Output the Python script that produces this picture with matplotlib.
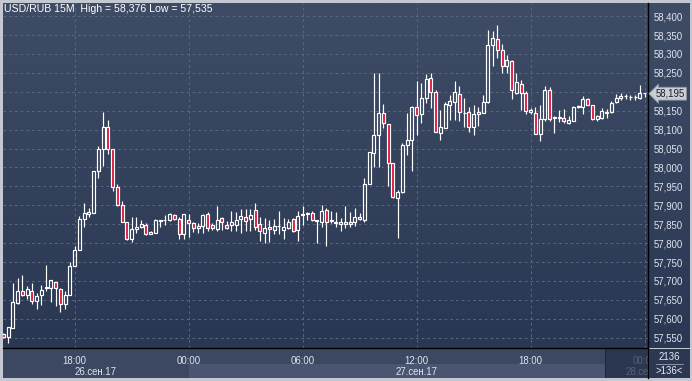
import numpy as np
import matplotlib
matplotlib.use("Agg")
import matplotlib.pyplot as plt
from matplotlib import transforms
from matplotlib.colors import LinearSegmentedColormap
from matplotlib.patches import Rectangle

# USD/RUB 15 minute bars, 26.09.2017 14:15 .. 28.09.2017 00:00
opens = [57.561, 57.551, 57.576, 57.642, 57.673, 57.664, 57.673, 57.648, 57.663, 57.680,
         57.680, 57.698, 57.678, 57.640, 57.662, 57.740, 57.781, 57.864, 57.878, 57.880,
         57.991, 58.050, 58.108, 58.049, 57.947, 57.900, 57.855, 57.812, 57.838, 57.843,
         57.849, 57.825, 57.827, 57.858, 57.860, 57.861, 57.873, 57.865, 57.823, 57.862,
         57.854, 57.841, 57.845, 57.878, 57.849, 57.838, 57.866, 57.848, 57.847, 57.847,
         57.863, 57.869, 57.864, 57.888, 57.851, 57.827, 57.843, 57.834, 57.845, 57.834,
         57.841, 57.864, 57.834, 57.874, 57.878, 57.880, 57.859, 57.856, 57.888, 57.860,
         57.853, 57.851, 57.856, 57.856, 57.856, 57.864, 57.862, 57.955, 58.039, 58.085,
         58.143, 58.115, 58.011, 57.920, 57.935, 58.060, 58.073, 58.161, 58.140, 58.184,
         58.237, 58.200, 58.091, 58.104, 58.166, 58.172, 58.195, 58.145, 58.146, 58.107,
         58.141, 58.144, 58.173, 58.323, 58.340, 58.311, 58.269, 58.282, 58.197, 58.221,
         58.197, 58.153, 58.144, 58.089, 58.128, 58.206, 58.131, 58.132, 58.132, 58.117,
         58.124, 58.160, 58.161, 58.182, 58.166, 58.128, 58.132, 58.144, 58.146, 58.172,
         58.184, 58.188, 58.185, 58.186, 58.184, 58.197]
highs = [57.563, 57.578, 57.695, 57.708, 57.715, 57.686, 57.694, 57.668, 57.690, 57.741,
         57.702, 57.698, 57.682, 57.673, 57.751, 57.793, 57.872, 57.905, 57.894, 57.990,
         58.056, 58.146, 58.125, 58.049, 57.955, 57.911, 57.855, 57.868, 57.868, 57.861,
         57.854, 57.833, 57.864, 57.861, 57.874, 57.880, 57.878, 57.869, 57.876, 57.877,
         57.856, 57.854, 57.877, 57.881, 57.853, 57.899, 57.868, 57.858, 57.886, 57.882,
         57.890, 57.890, 57.890, 57.905, 57.869, 57.866, 57.860, 57.864, 57.884, 57.867,
         57.865, 57.867, 57.884, 57.898, 57.883, 57.884, 57.860, 57.900, 57.893, 57.886,
         57.881, 57.866, 57.899, 57.883, 57.894, 57.879, 57.971, 58.041, 58.250, 58.250,
         58.167, 58.115, 58.011, 57.940, 58.065, 58.143, 58.163, 58.228, 58.222, 58.246,
         58.249, 58.205, 58.153, 58.172, 58.192, 58.228, 58.216, 58.184, 58.160, 58.166,
         58.160, 58.192, 58.364, 58.362, 58.376, 58.325, 58.296, 58.285, 58.250, 58.232,
         58.203, 58.157, 58.160, 58.164, 58.214, 58.212, 58.137, 58.153, 58.154, 58.137,
         58.163, 58.164, 58.188, 58.184, 58.166, 58.139, 58.157, 58.154, 58.175, 58.195,
         58.198, 58.195, 58.192, 58.191, 58.217, 58.197]
lows = [57.549, 57.535, 57.576, 57.638, 57.659, 57.651, 57.638, 57.625, 57.637, 57.673,
        57.643, 57.634, 57.619, 57.626, 57.662, 57.740, 57.781, 57.843, 57.868, 57.880,
        57.973, 58.004, 58.035, 57.938, 57.899, 57.857, 57.809, 57.804, 57.828, 57.839,
        57.821, 57.823, 57.827, 57.843, 57.848, 57.859, 57.861, 57.812, 57.810, 57.817,
        57.830, 57.828, 57.828, 57.831, 57.834, 57.832, 57.834, 57.836, 57.833, 57.831,
        57.826, 57.831, 57.831, 57.834, 57.805, 57.800, 57.802, 57.823, 57.824, 57.811,
        57.836, 57.830, 57.805, 57.847, 57.861, 57.859, 57.800, 57.842, 57.792, 57.854,
        57.842, 57.831, 57.840, 57.842, 57.845, 57.860, 57.855, 57.955, 58.002, 58.002,
        58.105, 57.951, 57.920, 57.814, 57.933, 58.034, 57.990, 58.087, 58.118, 58.170,
        58.158, 58.094, 58.072, 58.104, 58.126, 58.126, 58.122, 58.106, 58.094, 58.085,
        58.110, 58.144, 58.170, 58.267, 58.288, 58.250, 58.250, 58.182, 58.194, 58.153,
        58.141, 58.141, 58.089, 58.071, 58.122, 58.123, 58.091, 58.120, 58.117, 58.116,
        58.124, 58.158, 58.142, 58.164, 58.126, 58.124, 58.128, 58.132, 58.144, 58.170,
        58.179, 58.181, 58.179, 58.179, 58.182, 58.186]
closes = [57.551, 57.578, 57.645, 57.673, 57.662, 57.678, 57.646, 57.660, 57.677, 57.683,
          57.702, 57.680, 57.640, 57.662, 57.740, 57.781, 57.864, 57.879, 57.881, 57.990,
          58.050, 58.106, 58.050, 57.949, 57.902, 57.857, 57.812, 57.836, 57.842, 57.850,
          57.825, 57.830, 57.860, 57.860, 57.861, 57.876, 57.864, 57.823, 57.876, 57.852,
          57.841, 57.844, 57.874, 57.841, 57.839, 57.860, 57.856, 57.841, 57.856, 57.861,
          57.872, 57.859, 57.875, 57.843, 57.832, 57.840, 57.838, 57.846, 57.846, 57.843,
          57.856, 57.832, 57.872, 57.877, 57.879, 57.861, 57.859, 57.884, 57.856, 57.859,
          57.856, 57.857, 57.851, 57.851, 57.869, 57.869, 57.957, 58.041, 58.085, 58.143,
          58.118, 58.012, 57.922, 57.936, 58.060, 58.073, 58.161, 58.138, 58.184, 58.234,
          58.200, 58.094, 58.107, 58.169, 58.176, 58.199, 58.146, 58.143, 58.107, 58.141,
          58.146, 58.173, 58.323, 58.342, 58.311, 58.269, 58.285, 58.206, 58.226, 58.198,
          58.150, 58.146, 58.089, 58.128, 58.206, 58.128, 58.133, 58.133, 58.122, 58.126,
          58.160, 58.163, 58.182, 58.166, 58.128, 58.135, 58.150, 58.147, 58.170, 58.184,
          58.190, 58.188, 58.186, 58.185, 58.197, 58.196]

time_ticks = [15, 39, 63, 87, 111, 135]          # bar index of each label
time_labels = ["18:00", "00:00", "06:00", "12:00", "18:00", "00:00"]
day_labels = ["26.сен.17", "27.сен.17", "28.сен.17"]
day_bounds = [-0.07, 39, 135, 137.0]              # first bar of each day
price_ticks = np.round(np.arange(57.55, 58.401, 0.05), 3)
last_price = 58.195
bars_total = "2136"
bars_shown = ">136<"
title = "USD/RUB 15M  High = 58,376 Low = 57,535"

W, H = 692, 381
plt.rcParams['font.family'] = ['Liberation Sans', 'DejaVu Sans']


def px_rect(x0, y0, x1, y1):
    return [x0 / W, 1 - y1 / H, (x1 - x0) / W, (y1 - y0) / H]


def fmt(v):
    return f"{v:.3f}".replace('.', ',')


fig = plt.figure(figsize=(W / 100, H / 100), dpi=100)
fig.patch.set_facecolor('#c4c9d1')

# gradient background behind plot and price scale
bg = fig.add_axes(px_rect(3, 3, 690, 348), zorder=0)
grad_cmap = LinearSegmentedColormap.from_list('bg', ['#2a3752', '#3f4c66'])
bg.imshow(np.linspace(0, 1, 256).reshape(-1, 1), cmap=grad_cmap, origin='lower',
          aspect='auto', extent=[0, 1, 0, 1])
bg.set_axis_off()

ax = fig.add_axes(px_rect(3, 3, 648, 348), zorder=2)
ax.set_facecolor('none')
xlim = (-0.07, 135.72)
ax.set_xlim(*xlim)
ax.set_ylim(57.5227, 58.4347)

x = np.arange(len(opens))
o = np.array(opens)
h = np.array(highs)
l = np.array(lows)
c = np.array(closes)
top = np.maximum(o, c)
bot = np.minimum(o, c)
up = c >= o

ax.vlines(x, top, h, color='white', lw=0.85, zorder=3)
ax.vlines(x, l, bot, color='white', lw=0.85, zorder=3)
body_h = np.maximum(top - bot, 0.0015)
ax.bar(x[up], body_h[up], bottom=bot[up], width=0.62, facecolor='none',
       edgecolor='white', linewidth=0.85, zorder=4)
ax.bar(x[~up], body_h[~up], bottom=bot[~up], width=0.62, facecolor='#dc143c',
       edgecolor='white', linewidth=0.85, zorder=4)

# the price tag hides the nearest scale label
hidden = min(price_ticks, key=lambda v: abs(v - last_price))
ax.set_yticks(price_ticks)
ax.set_yticklabels(["" if v == hidden else fmt(v) for v in price_ticks])
ax.yaxis.tick_right()
ax.set_xticks(time_ticks)
ax.set_xticklabels([])
ax.tick_params(axis='y', length=0, pad=3.8, labelsize=6.9, labelcolor='#dfe5ef')
ax.tick_params(axis='x', length=0)
ax.grid(True, color='#5a6782', lw=0.75, linestyle=(0, (2.5, 3)))
ax.set_axisbelow(True)
for side in ['top', 'left']:
    ax.spines[side].set_visible(False)
for side in ['right', 'bottom']:
    ax.spines[side].set_color('black')
    ax.spines[side].set_linewidth(1.0)

# current price tag
tr = transforms.blended_transform_factory(ax.transAxes, ax.transData)
ax.text(1.012, last_price, fmt(last_price), transform=tr,
        va='center', ha='left', fontsize=6.9, color='#1a1f2a', clip_on=False,
        bbox=dict(boxstyle='larrow,pad=0.15', facecolor='#c9cdd4', edgecolor='#8e96a3', lw=0.6),
        zorder=6)

fig.text(4 / W, 1 - 8.5 / H, title, color='white', fontsize=7.6, va='center', ha='left')

# time scale panel
tp = fig.add_axes(px_rect(3, 349, 648, 378), zorder=1)
tp.set_xlim(*xlim)
tp.set_ylim(0, 1)
tp.set_facecolor('#3c4862')
tp.add_patch(Rectangle((day_bounds[1], 0), 126.7 - day_bounds[1], 0.5,
                       facecolor='#4a5671', edgecolor='none'))
for t, lab in zip(time_ticks, time_labels):
    tp.text(t, 0.58, lab, ha='center', va='center', fontsize=6.9, color='#dfe5ef', clip_on=True)
for d0, d1, lab in zip(day_bounds[:-1], day_bounds[1:], day_labels):
    tp.text(min((d0 + d1) / 2, 135.4), 0.21, lab, ha='center', va='center', fontsize=6.9,
            color='#dfe5ef', clip_on=True)
tp.add_patch(Rectangle((126.7, 0), xlim[1] - 126.7, 1, facecolor='#26324b',
                       edgecolor='none', alpha=0.75, zorder=5))
tp.axvline(126.7, color='#1e283c', lw=0.8, zorder=6)
tp.set_xticks([])
tp.set_yticks([])
for side in ['top', 'left', 'bottom']:
    tp.spines[side].set_visible(False)
tp.spines['right'].set_color('black')
tp.spines['right'].set_linewidth(1.0)

# bar counter box
cb = fig.add_axes(px_rect(649, 349, 690, 378), zorder=1)
cb.set_facecolor('#2c3852')
cb.plot([0.18, 0.82], [0.47, 0.47], color='#9aa3b3', lw=0.6)
cb.set_xlim(0, 1)
cb.set_ylim(0, 1)
cb.set_xticks([])
cb.set_yticks([])
for s in cb.spines.values():
    s.set_visible(False)
cb.text(0.5, 0.72, bars_total, ha='center', va='center', fontsize=6.9, color='#e6ebf3')
cb.text(0.5, 0.24, bars_shown, ha='center', va='center', fontsize=6.9, color='#e6ebf3')

fig.savefig('out.png', dpi=100, facecolor=fig.get_facecolor())
